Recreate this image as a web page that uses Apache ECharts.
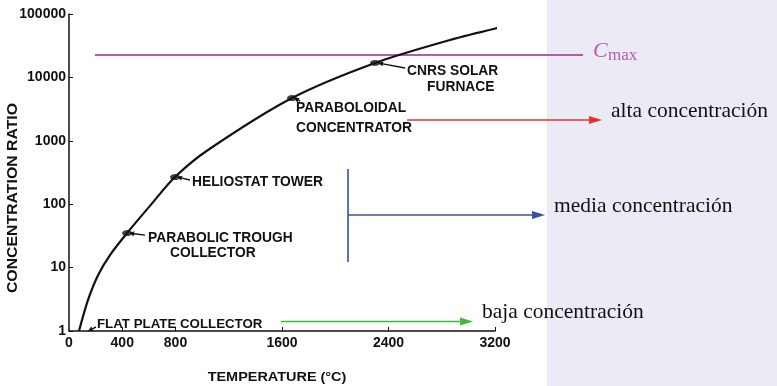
<!DOCTYPE html>
<html>
<head>
<meta charset="utf-8">
<script src="https://cdn.jsdelivr.net/npm/echarts@6/dist/echarts.min.js"></script>
<style>html,body{margin:0;padding:0;background:#fff}#c{width:777px;height:386px}</style>
</head>
<body>
<div id="c"></div>
<script>
// ---- data ----
const temps  = [75, 143, 218, 308, 436, 608, 796, 1044, 1675, 2299, 2862, 3252];
const ratios = [1, 3.1, 7.6, 15.8, 35, 94, 268, 716, 4730, 16900, 38900, 62400];
const xTickLabels = [0, 400, 800, 1600, 2400, 3200];
const yTickLabels = [1, 10, 100, 1000, 10000, 100000];
const systemNames = [['FLAT PLATE COLLECTOR'], ['PARABOLIC TROUGH', 'COLLECTOR'], ['HELIOSTAT TOWER'], ['PARABOLOIDAL', 'CONCENTRATOR'], ['CNRS SOLAR', 'FURNACE']];
const systemTemps  = [135, 436, 796, 1675, 2299];
const systemRatios = [1.0, 35, 268, 4730, 16900];
const cmaxValue = 22500;
const cmaxFrom = 195, cmaxTo = 3861;
const rangeNames  = ['alta concentración', 'media concentración', 'baja concentración'];
const rangeRatios = [2130, 67.5, 1.41];
const rangeFrom   = [2540, 2096, 1592];
const rangeTo     = [4004, 3576, 3035];
const rangeColors = ['#E33232', '#3A4FA6', '#3DBA3D'];
const bracketRatios = [359, 12.2];

const chart = echarts.init(document.getElementById('c'));
const axisFont = {fontFamily: 'Liberation Sans', fontWeight: 'bold', fontSize: 14, color: '#111'};

chart.setOption({
  animation: false,
  backgroundColor: '#fff',
  grid: {left: 69, right: 282, top: 14, bottom: 55, containLabel: false},
  xAxis: {
    type: 'value', min: 0, max: 3200, interval: 400,
    axisLine: {lineStyle: {color: '#111', width: 1.5}},
    axisTick: {inside: true, length: 4, lineStyle: {color: '#111'}, customValues: xTickLabels.slice(1)},
    axisLabel: Object.assign({margin: 5, customValues: xTickLabels, formatter: v => String(v)}, axisFont),
    splitLine: {show: false}
  },
  yAxis: {
    type: 'log', logBase: 10, min: 1, max: 100000,
    axisLine: {show: true, lineStyle: {color: '#111', width: 1.5}},
    axisTick: {show: true, inside: true, length: 4, lineStyle: {color: '#111'}},
    axisLabel: Object.assign({margin: 3, customValues: yTickLabels, formatter: v => String(Math.round(v))}, axisFont),
    splitLine: {show: false},
    minorTick: {show: false}
  },
  series: [
    {
      type: 'line', smooth: 0.3, clip: false, symbol: 'none',
      lineStyle: {color: '#111', width: 2.2},
      data: temps.map((t, i) => [t, ratios[i]]), z: 3
    },
    {
      type: 'scatter', symbol: 'circle', symbolSize: [10, 6],
      itemStyle: {color: '#111'},
      data: systemTemps.slice(1).map((t, i) => [t, systemRatios[i + 1]]), z: 4
    }
  ]
});

const P = (t, c) => chart.convertToPixel({xAxisIndex: 0, yAxisIndex: 0}, [t, c]);

function arrow(x1, y1, x2, y2, color, w, hl, hw) {
  const dx = x2 - x1, dy = y2 - y1, L = Math.sqrt(dx * dx + dy * dy);
  const ux = dx / L, uy = dy / L;
  const bx = x2 - ux * hl, by = y2 - uy * hl;
  return [
    {type: 'line', shape: {x1: x1, y1: y1, x2: bx, y2: by}, style: {stroke: color, lineWidth: w}, silent: true},
    {type: 'polygon', shape: {points: [[x2, y2], [bx - uy * hw, by + ux * hw], [bx + uy * hw, by - ux * hw]]}, style: {fill: color}, silent: true}
  ];
}
function txt(x, y, s, font, extra) {
  return Object.assign({type: 'text', x: x, y: y, silent: true,
    style: {text: s, font: font, fill: '#111', textAlign: 'left', textVerticalAlign: 'middle'}}, extra || {});
}

const g = [];
g.push({type: 'rect', shape: {x: 547, y: 0, width: 230, height: 386}, style: {fill: '#EBEBF6'}, silent: true, z: -10});

// axis titles
const grid0 = P(0, 1), gridEnd = P(3200, 1);
g.push({type: 'text', x: 13, y: 198, rotation: Math.PI / 2, scaleX: 1.13, silent: true,
  style: {text: 'CONCENTRATION RATIO', font: 'bold 14px "Liberation Sans"', fill: '#111', textAlign: 'center', textVerticalAlign: 'middle'}});
g.push({type: 'text', x: (grid0[0] + gridEnd[0]) / 2 - 5, y: grid0[1] + 46, scaleX: 1.07, silent: true,
  style: {text: 'TEMPERATURE (°C)', font: 'bold 13.5px "Liberation Sans"', fill: '#111', textAlign: 'center', textVerticalAlign: 'middle'}});

// system annotations (offsets relative to dot)
const lf = 'bold 13.8px "Liberation Sans"';
const labelOffsets = [
  [[10, -7]],
  [[21, 5], [43, 20.5]],
  [[17, 5]],
  [[4, 10], [4, 30]],
  [[32, 8], [52, 24]]
];
const leaderOffsets = [[9, -4, 1, 0], [18, 2, 2, 0], [15, 3, 2, 0], [8, 3, 2, 0], [30, 5, 3, 0]];
systemTemps.forEach((t, i) => {
  const p = P(t, systemRatios[i]);
  systemNames[i].forEach((s, j) => {
    g.push(txt(p[0] + labelOffsets[i][j][0], p[1] + labelOffsets[i][j][1], s, i === 0 ? 'bold 13.3px "Liberation Sans"' : lf));
  });
  const lo = leaderOffsets[i];
  arrow(p[0] + lo[0], p[1] + lo[1], p[0] + lo[2], p[1] + lo[3], '#111', 1.4, 5, 2.5).forEach(e => g.push(e));
});

// Cmax line
const c1 = P(cmaxFrom, cmaxValue), c2 = P(cmaxTo, cmaxValue);
g.push({type: 'line', shape: {x1: c1[0], y1: c1[1], x2: c2[0], y2: c2[1]}, style: {stroke: '#B55AAE', lineWidth: 2}, silent: true});
g.push({type: 'text', x: c2[0] + 10, y: c2[1] + 7, silent: true, style: {text: 'C', font: 'italic 22px "Liberation Serif"', fill: '#B55AAE', textAlign: 'left', textVerticalAlign: 'bottom'}});
g.push({type: 'text', x: c2[0] + 25, y: c2[1] + 9, silent: true, style: {text: 'max', font: '17px "Liberation Serif"', fill: '#B55AAE', textAlign: 'left', textVerticalAlign: 'bottom'}});

// concentration ranges
const sf = '21.5px "Liberation Serif"';
rangeNames.forEach((s, i) => {
  const a = P(rangeFrom[i], rangeRatios[i]), b = P(rangeTo[i], rangeRatios[i]);
  arrow(a[0], a[1], b[0], b[1], rangeColors[i], 1.6, 13, 4).forEach(e => g.push(e));
  g.push({type: 'text', x: b[0] + 9, y: b[1] + 2, silent: true, style: {text: s, font: sf, fill: '#111', textAlign: 'left', textVerticalAlign: 'bottom'}});
});
const v1 = P(rangeFrom[1], bracketRatios[0]), v2 = P(rangeFrom[1], bracketRatios[1]);
g.push({type: 'line', shape: {x1: v1[0], y1: v1[1], x2: v2[0], y2: v2[1]}, style: {stroke: rangeColors[1], lineWidth: 1.6}, silent: true});

chart.setOption({graphic: {elements: g}});
</script>
</body>
</html>
